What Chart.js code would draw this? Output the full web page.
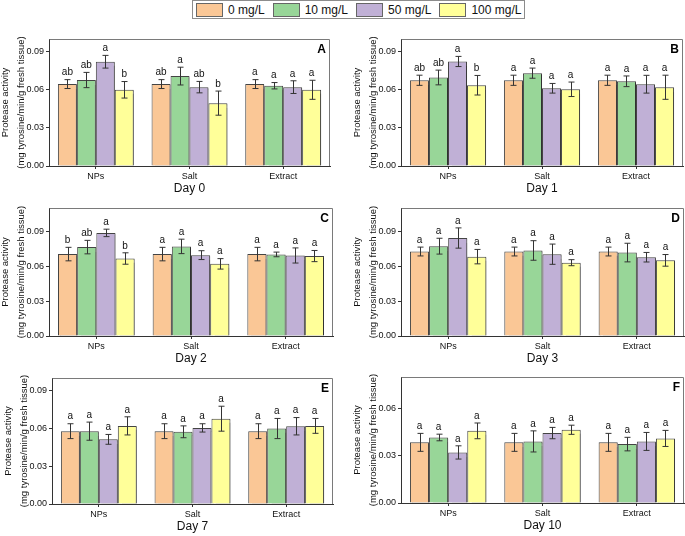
<!DOCTYPE html>
<html>
<head>
<meta charset="utf-8">
<script src="https://cdn.jsdelivr.net/npm/chart.js@4.4.1/dist/chart.umd.min.js"></script>
<style>
  body { margin: 0; background: #fff; font-family: "Liberation Sans", Arial, sans-serif; }
  #page { position: relative; width: 685px; height: 536px; overflow: hidden; }
  .panel { position: absolute; }
  #legend { position: absolute; left: 192px; top: 0px; width: 328px; height: 17px; box-sizing: content-box;
            border: 1px solid #8c8c8c; display: flex; align-items: center; gap: 8px; padding-left: 3px;
            font-size: 12px; color: #111; white-space: nowrap; }
  #legend .item { display: flex; align-items: center; }
  #legend .sw { width: 25px; height: 12px; border: 1px solid #666; margin-right: 5px; }
</style>
</head>
<body>
<div id="page">
  <div id="legend"></div>
</div>
<script>
const categories = ["NPs", "Salt", "Extract"];
const doses = ["0 mg/L", "10 mg/L", "50 mg/L", "100 mg/L"];
const doseColors = ["#FAC796", "#98D698", "#C0B0D6", "#FFFF99"];
const days = ["Day 0", "Day 1", "Day 2", "Day 3", "Day 7", "Day 10"];
const panelTags = ["A", "B", "C", "D", "E", "F"];
const yMax = [0.10, 0.10, 0.11, 0.11, 0.10, 0.08];
const yTickValues = [0, 0.03, 0.06, 0.09];

// rows = dose (0, 10, 50, 100 mg/L), columns = NPs, Salt, Extract
const day0Mean = [[0.0645, 0.0645, 0.0645], [0.0677, 0.0708, 0.0632], [0.0821, 0.0621, 0.0621], [0.0600, 0.0495, 0.0600]];
const day0Err  = [[0.0035, 0.0035, 0.0035], [0.0060, 0.0070, 0.0025], [0.0050, 0.0045, 0.0050], [0.0065, 0.0095, 0.0075]];
const day0Sig  = [["ab", "ab", "a"], ["ab", "a", "a"], ["a", "ab", "a"], ["b", "b", "a"]];

const day1Mean = [[0.0675, 0.0675, 0.0675], [0.0697, 0.0731, 0.0667], [0.0823, 0.0612, 0.0644], [0.0636, 0.0604, 0.0620]];
const day1Err  = [[0.0040, 0.0040, 0.0040], [0.0058, 0.0040, 0.0042], [0.0040, 0.0038, 0.0070], [0.0077, 0.0057, 0.0095]];
const day1Sig  = [["ab", "a", "a"], ["ab", "a", "a"], ["a", "a", "a"], ["b", "a", "a"]];

const day2Mean = [[0.0704, 0.0704, 0.0704], [0.0764, 0.0770, 0.0701], [0.0886, 0.0695, 0.0692], [0.0666, 0.0620, 0.0687]];
const day2Err  = [[0.0058, 0.0058, 0.0058], [0.0058, 0.0062, 0.0020], [0.0032, 0.0038, 0.0065], [0.0049, 0.0045, 0.0048]];
const day2Sig  = [["b", "a", "a"], ["ab", "a", "a"], ["a", "a", "a"], ["b", "a", "a"]];

const day3Mean = [[0.0726, 0.0726, 0.0726], [0.0772, 0.0735, 0.0717], [0.0842, 0.0703, 0.0677], [0.0682, 0.0630, 0.0650]];
const day3Err  = [[0.0038, 0.0038, 0.0038], [0.0068, 0.0084, 0.0080], [0.0087, 0.0087, 0.0041], [0.0062, 0.0026, 0.0050]];
const day3Sig  = [["a", "a", "a"], ["a", "a", "a"], ["a", "a", "a"], ["a", "a", "a"]];

const day7Mean = [[0.0578, 0.0578, 0.0578], [0.0578, 0.0573, 0.0599], [0.0513, 0.0604, 0.0617], [0.0620, 0.0677, 0.0620]];
const day7Err  = [[0.0059, 0.0059, 0.0059], [0.0072, 0.0047, 0.0080], [0.0039, 0.0033, 0.0069], [0.0072, 0.0099, 0.0059]];
const day7Sig  = [["a", "a", "a"], ["a", "a", "a"], ["a", "a", "a"], ["a", "a", "a"]];

const day10Mean = [[0.0385, 0.0385, 0.0385], [0.0416, 0.0391, 0.0374], [0.0321, 0.0444, 0.0391], [0.0458, 0.0465, 0.0410]];
const day10Err  = [[0.0057, 0.0057, 0.0057], [0.0021, 0.0067, 0.0043], [0.0042, 0.0036, 0.0057], [0.0050, 0.0029, 0.0051]];
const day10Sig  = [["a", "a", "a"], ["a", "a", "a"], ["a", "a", "a"], ["a", "a", "a"]];

const allMeans = [day0Mean, day1Mean, day2Mean, day3Mean, day7Mean, day10Mean];
const allErrs = [day0Err, day1Err, day2Err, day3Err, day7Err, day10Err];
const allSigs = [day0Sig, day1Sig, day2Sig, day3Sig, day7Sig, day10Sig];

// container box and wanted plot area, page pixels
const boxes = [
  { x: 0,   y: 20,  w: 340, h: 180, L: 49,  T: 39,  R: 330, B: 166 },
  { x: 340, y: 20,  w: 345, h: 180, L: 401, T: 39,  R: 683, B: 166 },
  { x: 0,   y: 196, w: 340, h: 172, L: 49,  T: 208, R: 333, B: 336 },
  { x: 340, y: 196, w: 345, h: 172, L: 401, T: 208, R: 684, B: 336 },
  { x: 0,   y: 366, w: 340, h: 170, L: 52,  T: 378, R: 333, B: 504 },
  { x: 340, y: 366, w: 345, h: 170, L: 401, T: 377, R: 684, B: 503 }
];

const FONT = "'Liberation Sans', Arial, sans-serif";
const page = document.getElementById("page");

// shared legend
const legend = document.getElementById("legend");
doses.forEach((d, i) => {
  legend.innerHTML += `<div class="item"><div class="sw" style="background:${doseColors[i]}"></div><span>${d}</span></div>`;
});

const extras = {
  id: "extras",
  beforeDatasetsDraw(chart) {
    const ctx = chart.ctx;
    ctx.save();
    ctx.shadowColor = "rgba(0,0,0,0.28)";
    ctx.shadowOffsetX = 1.5;
    ctx.shadowOffsetY = 1;
    ctx.shadowBlur = 1;
  },
  afterDatasetsDraw(chart) {
    const ctx = chart.ctx;
    ctx.restore();
    const y = chart.scales.y;
    ctx.save();
    ctx.strokeStyle = "#333";
    ctx.lineWidth = 1;
    ctx.fillStyle = "#111";
    ctx.font = "10px " + FONT;
    ctx.textAlign = "center";
    ctx.textBaseline = "bottom";
    chart.data.datasets.forEach((ds, i) => {
      chart.getDatasetMeta(i).data.forEach((bar, j) => {
        const x = Math.round(bar.x) + 0.5;
        const top = y.getPixelForValue(ds.data[j] + ds.errors[j]);
        const bot = y.getPixelForValue(ds.data[j] - ds.errors[j]);
        ctx.beginPath();
        ctx.moveTo(x, top); ctx.lineTo(x, bot);
        ctx.moveTo(x - 3, top); ctx.lineTo(x + 3, top);
        ctx.moveTo(x - 3, bot); ctx.lineTo(x + 3, bot);
        ctx.stroke();
        ctx.fillText(ds.sig[j], bar.x, top - 2);
      });
    });
    ctx.restore();
  },
  afterDraw(chart, args, opts) {
    const ctx = chart.ctx;
    const a = chart.chartArea;
    ctx.save();
    // top and right frame
    ctx.strokeStyle = "#7a7a7a";
    ctx.lineWidth = 1;
    ctx.beginPath();
    ctx.moveTo(Math.round(a.left) + 0.5, Math.round(a.top) + 0.5);
    ctx.lineTo(Math.round(a.right) - 0.5, Math.round(a.top) + 0.5);
    ctx.lineTo(Math.round(a.right) - 0.5, Math.round(a.bottom));
    ctx.stroke();
    // panel letter
    ctx.fillStyle = "#000";
    ctx.font = "bold 12px " + FONT;
    ctx.textAlign = "right";
    ctx.textBaseline = "middle";
    ctx.fillText(opts.tag, a.right - 4, a.top + 11);
    // day title
    ctx.font = "12px " + FONT;
    ctx.textAlign = "center";
    ctx.fillStyle = "#111";
    ctx.fillText(opts.day, (a.left + a.right) / 2, a.bottom + 23);
    // y title, two lines
    const cy = (a.top + a.bottom) / 2;
    ctx.font = "9.5px " + FONT;
    ctx.translate(a.left, cy);
    ctx.rotate(-Math.PI / 2);
    ctx.fillText("Protease activity", 0, -44);
    ctx.fillText("(mg tyrosine/min/g fresh tissue)", 0, -28);
    ctx.restore();
  }
};

boxes.forEach((b, p) => {
  const div = document.createElement("div");
  div.className = "panel";
  div.style.left = b.x + "px";
  div.style.top = b.y + "px";
  div.style.width = b.w + "px";
  div.style.height = b.h + "px";
  const canvas = document.createElement("canvas");
  div.appendChild(canvas);
  page.appendChild(div);

  const datasets = doses.map((d, i) => ({
    label: d,
    data: allMeans[p][i],
    errors: allErrs[p][i],
    sig: allSigs[p][i],
    backgroundColor: doseColors[i],
    borderColor: "#444",
    borderWidth: 1,
    categoryPercentage: 0.81,
    barPercentage: 1.0
  }));

  new Chart(canvas.getContext("2d"), {
    type: "bar",
    data: { labels: categories, datasets: datasets },
    options: {
      responsive: true,
      maintainAspectRatio: false,
      animation: false,
      devicePixelRatio: 1,
      layout: { padding: { top: b.T - b.y, right: b.x + b.w - b.R, left: 0, bottom: 0 } },
      plugins: {
        legend: { display: false },
        tooltip: { enabled: false },
        extras: { tag: panelTags[p], day: days[p] }
      },
      scales: {
        x: {
          grid: { display: true, offset: false, drawOnChartArea: false, tickLength: 3, color: "#333" },
          border: { color: "#333", width: 1 },
          ticks: { font: { family: FONT, size: 9 }, color: "#111", padding: 2, maxRotation: 0 },
          afterFit: s => { s.height = b.y + b.h - b.B; }
        },
        y: {
          min: 0,
          max: yMax[p],
          grid: { display: true, drawOnChartArea: false, tickLength: 3, color: "#333" },
          border: { color: "#333", width: 1 },
          ticks: {
            stepSize: 0.03,
            font: { family: FONT, size: 9 },
            color: "#111",
            padding: 2,
            callback: v => v.toFixed(2)
          },
          afterBuildTicks: s => {
            s.ticks = yTickValues.filter(v => v <= yMax[p] + 1e-9).map(v => ({ value: v }));
          },
          afterFit: s => { s.width = b.L - b.x; }
        }
      }
    },
    plugins: [extras]
  });
});
</script>
</body>
</html>
